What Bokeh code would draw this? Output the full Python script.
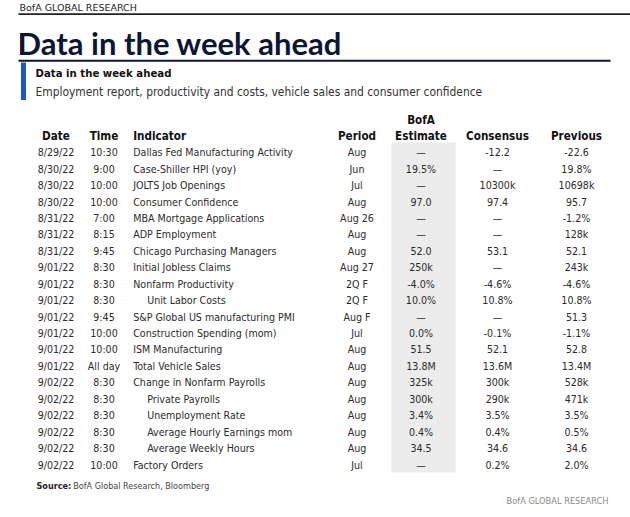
from bokeh.plotting import figure
from bokeh.models import ColumnDataSource, Range1d
from bokeh.core.properties import value
from bokeh.embed import file_html
from bokeh.resources import INLINE

# ---------------- data ----------------
dates = ["8/29/22", "8/30/22", "8/30/22", "8/30/22", "8/31/22", "8/31/22", "8/31/22",
         "9/01/22", "9/01/22", "9/01/22", "9/01/22", "9/01/22", "9/01/22", "9/01/22",
         "9/02/22", "9/02/22", "9/02/22", "9/02/22", "9/02/22", "9/02/22"]
times = ["10:30", "9:00", "10:00", "10:00", "7:00", "8:15", "9:45", "8:30", "8:30", "8:30",
         "9:45", "10:00", "10:00", "All day", "8:30", "8:30", "8:30", "8:30", "8:30", "10:00"]
indicators = ["Dallas Fed Manufacturing Activity", "Case-Shiller HPI (yoy)", "JOLTS Job Openings",
              "Consumer Confidence", "MBA Mortgage Applications", "ADP Employment",
              "Chicago Purchasing Managers", "Initial Jobless Claims", "Nonfarm Productivity",
              "Unit Labor Costs", "S&P Global US manufacturing PMI", "Construction Spending (mom)",
              "ISM Manufacturing", "Total Vehicle Sales", "Change in Nonfarm Payrolls",
              "Private Payrolls", "Unemployment Rate", "Average Hourly Earnings mom",
              "Average Weekly Hours", "Factory Orders"]
indent = [0, 0, 0, 0, 0, 0, 0, 0, 0, 1, 0, 0, 0, 0, 0, 1, 1, 1, 1, 0]
periods = ["Aug", "Jun", "Jul", "Aug", "Aug 26", "Aug", "Aug", "Aug 27", "2Q F", "2Q F",
           "Aug F", "Jul", "Aug", "Aug", "Aug", "Aug", "Aug", "Aug", "Aug", "Jul"]
bofa = ["—", "19.5%", "—", "97.0", "—", "—", "52.0", "250k", "-4.0%", "10.0%",
        "—", "0.0%", "51.5", "13.8M", "325k", "300k", "3.4%", "0.4%", "34.5", "—"]
consensus = ["-12.2", "—", "10300k", "97.4", "—", "—", "53.1", "—", "-4.6%", "10.8%",
             "—", "-0.1%", "52.1", "13.6M", "300k", "290k", "3.5%", "0.4%", "34.6", "0.2%"]
previous = ["-22.6", "19.8%", "10698k", "95.7", "-1.2%", "128k", "52.1", "243k", "-4.6%", "10.8%",
            "51.3", "-1.1%", "52.8", "13.4M", "528k", "471k", "3.5%", "0.5%", "34.6", "2.0%"]

header_top = ["BofA"]
headers = ["Date", "Time", "Indicator", "Period", "Estimate", "Consensus", "Previous"]

# ---------------- layout ----------------
W, H = 630, 517
NARROW = "DejaVu Sans Condensed"
TXT = "#2b2b2b"
ROW0, STEP = 151.7, 16.44
n = len(dates)
ys = [ROW0 + i * STEP for i in range(n)]

p = figure(width=W, height=H, output_backend="svg", toolbar_location=None,
           x_range=Range1d(0, W), y_range=Range1d(H, 0),
           min_border=0, outline_line_color=None)
p.axis.visible = False
p.grid.visible = False
p.background_fill_color = "white"
p.border_fill_color = "white"

# shaded BofA estimate column
p.quad(left=[391], right=[455], top=[142], bottom=[472], fill_color="#ececec", line_color=None)

# rules
p.segment(x0=[18], y0=[13.6], x1=[630], y1=[13.6], line_color="#222222", line_width=1.6)
p.segment(x0=[18], y0=[60.2], x1=[610], y1=[60.2], line_color="#0b1633", line_width=2)
p.quad(left=[20.5], right=[25.5], top=[62], bottom=[99.5], fill_color="#1f56c8", line_color=None)

# headings
p.text(x=[19], y=[7.2], text=["BofA GLOBAL RESEARCH"], text_font=value("DejaVu Sans"),
       text_font_size="9.5px", text_color="#222222", text_baseline="middle")
p.text(x=[17], y=[42.5], text=["Data in the week ahead"], text_font=value("Lato"),
       text_font_style="bold", text_font_size="31px", text_color="#0b1633",
       text_baseline="middle")
p.text(x=[35], y=[73], text=["Data in the week ahead"], text_font=value(NARROW),
       text_font_style="bold", text_font_size="11.3px", text_color="#111111",
       text_baseline="middle")
p.text(x=[35], y=[91], text=["Employment report, productivity and costs, vehicle sales and consumer confidence"],
       text_font=value(NARROW), text_font_size="11.9px", text_color="#333333",
       text_baseline="middle")

# column headers
col_x = [55.5, 103.5, 132.7, 356.5, 420.5, 497, 576]
col_align = ["center", "center", "left", "center", "center", "center", "center"]
for hx, ha, ht in zip(col_x, col_align, headers):
    p.text(x=[hx], y=[135], text=[ht], text_font=value(NARROW), text_font_style="bold",
           text_font_size="11.6px", text_color="#111111", text_baseline="middle", text_align=ha)
p.text(x=[col_x[4]], y=[119.3], text=header_top, text_font=value(NARROW), text_font_style="bold",
       text_font_size="11.6px", text_color="#111111", text_baseline="middle", text_align="center")

# body
ind_x = [132.7 + 14 * k for k in indent]
src = ColumnDataSource(dict(y=ys, date=dates, time=times, ind=indicators, ind_x=ind_x,
                            period=periods, bofa=bofa, cons=consensus, prev=previous))
common = dict(source=src, y="y", text_font=value(NARROW), text_font_size="10.6px",
              text_color=TXT, text_baseline="middle")
p.text(x=col_x[0], text="date", text_align="center", **common)
p.text(x=col_x[1], text="time", text_align="center", **common)
p.text(x="ind_x", text="ind", text_align="left", **common)
p.text(x=col_x[3], text="period", text_align="center", **common)
p.text(x=col_x[4], text="bofa", text_align="center", **common)
p.text(x=col_x[5], text="cons", text_align="center", **common)
p.text(x=col_x[6], text="prev", text_align="center", **common)

# footer
p.text(x=[36], y=[485.5], text=["Source:"], text_font=value(NARROW), text_font_style="bold",
       text_font_size="9px", text_color="#222222", text_baseline="middle")
p.text(x=[72.7], y=[485.5], text=["BofA Global Research, Bloomberg"], text_font=value(NARROW),
       text_font_size="9px", text_color="#444444", text_baseline="middle")
p.text(x=[608], y=[500], text=["BofA GLOBAL RESEARCH"], text_font=value(NARROW),
       text_font_size="9.2px", text_color="#8a8a8a", text_baseline="middle", text_align="right")

open("out.html", "w").write(file_html(p, INLINE))
